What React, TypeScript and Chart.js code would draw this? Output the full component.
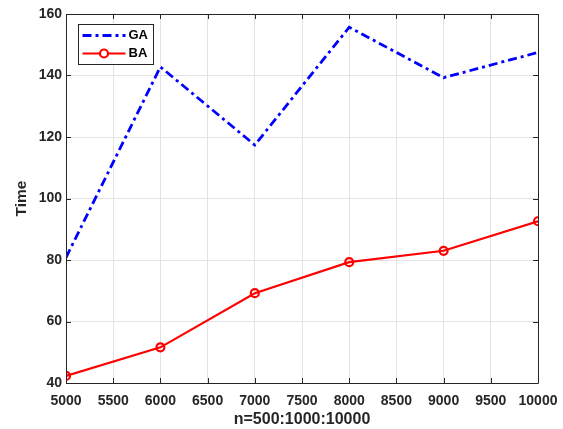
import React, { useEffect, useRef } from "react";
import { Chart, registerables } from "chart.js";

Chart.register(...registerables);

const nValues = [5000, 6000, 7000, 8000, 9000, 10000];
const gaTimes = [80.8, 142.8, 117.4, 155.7, 139.3, 147.5];
const baTimes = [42.3, 51.6, 69.2, 79.3, 83.0, 92.6];
const seriesLabels = ["GA", "BA"];
const xTitle = "n=500:1000:10000";
const yTitle = "Time";

const FONT = "'Liberation Sans', Arial, Helvetica, sans-serif";
const AXIS_COLOR = "#262626";
const GA_DASH = [9, 4, 3, 4];

const boxPlugin = {
  id: "matlabBox",
  afterDraw(chart: any) {
    const { ctx, chartArea } = chart;
    const { left, right, top, bottom } = chartArea;
    const xs = chart.scales.x;
    const ys = chart.scales.y;
    ctx.save();
    ctx.strokeStyle = AXIS_COLOR;
    ctx.lineWidth = 1;
    ctx.beginPath();
    ctx.rect(Math.round(left) + 0.5, Math.round(top) + 0.5, Math.round(right - left), Math.round(bottom - top));
    ctx.stroke();
    const tl = 5;
    ctx.beginPath();
    xs.ticks.forEach((t: any) => {
      const px = Math.round(xs.getPixelForValue(t.value)) + 0.5;
      ctx.moveTo(px, bottom);
      ctx.lineTo(px, bottom - tl);
      ctx.moveTo(px, top);
      ctx.lineTo(px, top + tl);
    });
    ys.ticks.forEach((t: any) => {
      const py = Math.round(ys.getPixelForValue(t.value)) + 0.5;
      ctx.moveTo(left, py);
      ctx.lineTo(left + tl, py);
      ctx.moveTo(right, py);
      ctx.lineTo(right - tl, py);
    });
    ctx.stroke();

    // legend
    const bx = Math.round(left) + 12.5;
    const by = Math.round(top) + 10.5;
    const bw = 75;
    const bh = 40;
    ctx.fillStyle = "#ffffff";
    ctx.fillRect(bx, by, bw, bh);
    ctx.strokeStyle = AXIS_COLOR;
    ctx.lineWidth = 1;
    ctx.strokeRect(bx, by, bw, bh);
    const rows = [by + 11, by + 29];
    const lx0 = bx + 4;
    const lx1 = bx + 47;
    ctx.strokeStyle = "#0000ff";
    ctx.lineWidth = 2.8;
    ctx.setLineDash(GA_DASH);
    ctx.beginPath();
    ctx.moveTo(lx0, rows[0]);
    ctx.lineTo(lx1, rows[0]);
    ctx.stroke();
    ctx.setLineDash([]);
    ctx.strokeStyle = "#ff0000";
    ctx.lineWidth = 2.2;
    ctx.beginPath();
    ctx.moveTo(lx0, rows[1]);
    ctx.lineTo(lx1, rows[1]);
    ctx.stroke();
    ctx.fillStyle = "#ffffff";
    ctx.beginPath();
    ctx.arc((lx0 + lx1) / 2, rows[1], 4, 0, Math.PI * 2);
    ctx.fill();
    ctx.stroke();
    ctx.fillStyle = "#000000";
    ctx.font = `bold 13px ${FONT}`;
    ctx.textBaseline = "middle";
    ctx.textAlign = "left";
    ctx.fillText(seriesLabels[0], lx1 + 3, rows[0]);
    ctx.fillText(seriesLabels[1], lx1 + 3, rows[1]);
    ctx.restore();
  },
};

export default function App() {
  const ref = useRef<HTMLCanvasElement | null>(null);
  useEffect(() => {
    document.body.style.margin = "0";
    const canvas = ref.current;
    if (!canvas) return;
    const chart = new Chart(canvas, {
      type: "line",
      data: {
        datasets: [
          {
            label: seriesLabels[0],
            data: nValues.map((n, i) => ({ x: n, y: gaTimes[i] })),
            borderColor: "#0000ff",
            borderWidth: 2.8,
            borderDash: GA_DASH,
            pointRadius: 0,
            fill: false,
            tension: 0,
          },
          {
            label: seriesLabels[1],
            data: nValues.map((n, i) => ({ x: n, y: baTimes[i] })),
            borderColor: "#ff0000",
            borderWidth: 2.2,
            pointRadius: 4,
            pointBorderWidth: 2.2,
            pointBorderColor: "#ff0000",
            pointBackgroundColor: "rgba(255,255,255,0)",
            fill: false,
            tension: 0,
          },
        ],
      },
      options: {
        animation: false,
        responsive: false,
        maintainAspectRatio: false,
        layout: { padding: { left: 0, top: 14, right: 25, bottom: 0 } },
        plugins: {
          legend: { display: false },
          tooltip: { enabled: false },
        },
        scales: {
          x: {
            type: "linear",
            min: 5000,
            max: 10000,
            afterFit: (s: any) => {
              s.height = 46;
              s.paddingRight = 0;
              s.paddingLeft = 0;
            },
            ticks: {
              stepSize: 500,
              color: AXIS_COLOR,
              font: { family: FONT, size: 14, weight: "bold" },
              padding: 10,
              maxRotation: 0,
              autoSkip: false,
              callback: (v: any) => String(v),
            },
            grid: { color: "#e3e3e3", drawTicks: false, tickLength: 0 },
            border: { display: false },
            title: {
              display: true,
              text: xTitle,
              color: AXIS_COLOR,
              font: { family: FONT, size: 16, weight: "bold" },
              padding: { top: 0, bottom: 0 },
            },
          },
          y: {
            type: "linear",
            min: 40,
            max: 160,
            afterFit: (s: any) => {
              s.width = 66;
            },
            ticks: {
              stepSize: 20,
              color: AXIS_COLOR,
              font: { family: FONT, size: 14, weight: "bold" },
              padding: 4,
              callback: (v: any) => String(v),
            },
            grid: { color: "#e3e3e3", drawTicks: false, tickLength: 0 },
            border: { display: false },
            title: {
              display: true,
              text: yTitle,
              color: AXIS_COLOR,
              font: { family: FONT, size: 15.5, weight: "bold" },
              padding: { top: 12, bottom: 0 },
            },
          },
        },
      },
      plugins: [boxPlugin],
    });
    return () => chart.destroy();
  }, []);
  return (
    <div style={{ width: 563, height: 429, background: "#ffffff" }}>
      <canvas ref={ref} width={563} height={429} style={{ display: "block" }} />
    </div>
  );
}
